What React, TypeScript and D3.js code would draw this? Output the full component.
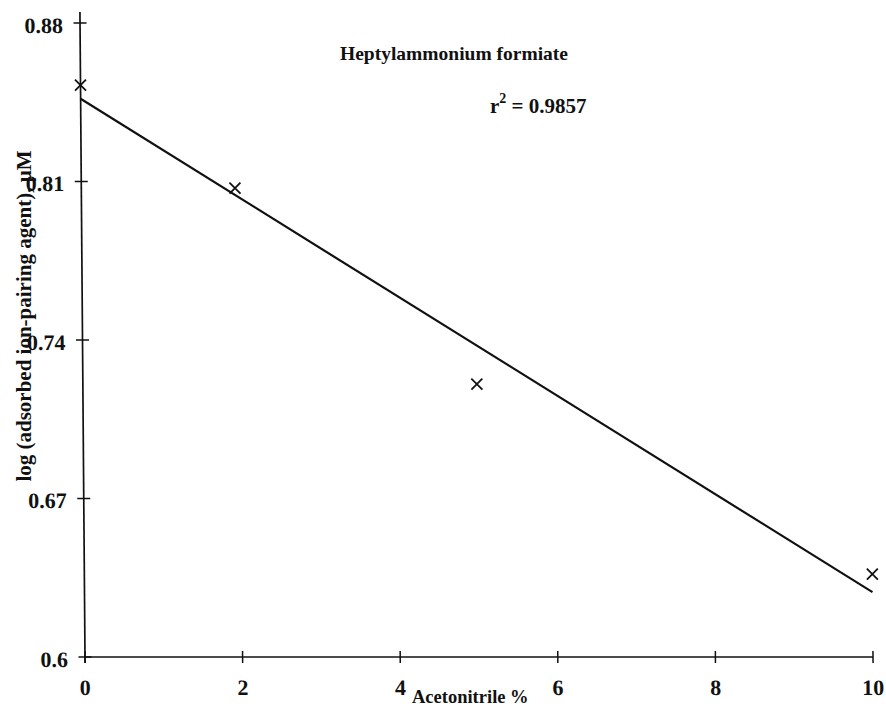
import * as d3 from "d3";

// values
const acetonitrile = [0, 1.95, 5, 10];
const logAdsorbed = [0.8526, 0.8071, 0.7205, 0.6366];
const xTicks = [0, 2, 4, 6, 8, 10];
const yTicks = [0.6, 0.67, 0.74, 0.81, 0.88];
const xTickLabels = ["0", "2", "4", "6", "8", "10"];
const yTickLabels = ["0.6", "0.67", "0.74", "0.81", "0.88"];
const title = "Heptylammonium formiate";
const xTitle = "Acetonitrile %";
const yTitle = "log (adsorbed ion-pairing agent), µM";

const W = 886;
const H = 706;
const FONT = "'Liberation Serif', 'Times New Roman', serif";

export default function App() {
  const x = d3.scaleLinear().domain([0, 10]).range([85, 873]);
  const y = d3.scaleLinear().domain([0.6, 0.88]).range([657, 23]);

  // least squares fit through the points
  const mx = d3.mean(acetonitrile) ?? 0;
  const my = d3.mean(logAdsorbed) ?? 0;
  const sxy = d3.sum(acetonitrile, (v, i) => (v - mx) * (logAdsorbed[i] - my));
  const sxx = d3.sum(acetonitrile, (v) => (v - mx) * (v - mx));
  const slope = sxy / sxx;
  const intercept = my - slope * mx;
  const fit = d3
    .line<number>()
    .x((d) => x(d))
    .y((d) => y(intercept + slope * d))([0, 10]);

  const ox = x(0);
  const oy = y(0.6);

  return (
    <svg
      width={W}
      height={H}
      style={{ position: "absolute", left: 0, top: 0, background: "#fff" }}
      fontFamily={FONT}
      fontWeight="bold"
      fill="#111"
    >
      {/* slight shear like the scanned original */}
      <g transform={`translate(${ox},${oy}) skewX(0.45) translate(${-ox},${-oy})`}>
        {/* y axis */}
        <line x1={ox} x2={ox} y1={12} y2={oy + 6} stroke="#111" strokeWidth={1.7} />
        {yTicks.map((t, i) => (
          <g key={t}>
            <line x1={ox - 6.5} x2={ox + 6.5} y1={y(t)} y2={y(t)} stroke="#111" strokeWidth={1.5} />
            <text x={ox - 17} y={y(t) + 10} textAnchor="end" fontSize={22}>
              {yTickLabels[i]}
            </text>
          </g>
        ))}

        {/* x axis */}
        <line x1={ox} x2={x(10)} y1={oy} y2={oy} stroke="#111" strokeWidth={1.7} />
        {xTicks.map((t, i) => (
          <g key={t}>
            <line x1={x(t)} x2={x(t)} y1={oy - 6} y2={oy + 6} stroke="#111" strokeWidth={1.5} />
            <text x={x(t)} y={695} textAnchor="middle" fontSize={22}>
              {xTickLabels[i]}
            </text>
          </g>
        ))}

        {/* regression line */}
        <path d={fit ?? ""} fill="none" stroke="#111" strokeWidth={2.2} />

        {/* points */}
        {acetonitrile.map((v, i) => {
          const px = x(v);
          const py = y(logAdsorbed[i]);
          const s = 5.5;
          return (
            <path
              key={i}
              d={`M${px - s},${py - s}L${px + s},${py + s}M${px - s},${py + s}L${px + s},${py - s}`}
              stroke="#111"
              strokeWidth={1.8}
              fill="none"
            />
          );
        })}
      </g>

      <text x={454} y={60} textAnchor="middle" fontSize={19.5}>
        {title}
      </text>
      <text x={490} y={113} fontSize={21}>
        r
        <tspan fontSize={14} dy={-10}>2</tspan>
        <tspan dy={10}> = 0.9857</tspan>
      </text>

      <text x={412} y={703} fontSize={18.5}>
        {xTitle}
      </text>
      <text transform="translate(31,316) rotate(-90)" textAnchor="middle" fontSize={21}>
        {yTitle}
      </text>
    </svg>
  );
}
